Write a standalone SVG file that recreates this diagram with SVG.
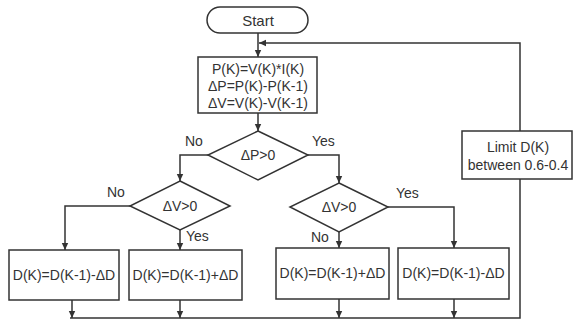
<svg xmlns="http://www.w3.org/2000/svg" width="574" height="320" viewBox="0 0 574 320">
<defs>
<style>
.n{fill:#fff;stroke:#333;stroke-width:1.5}
.c{fill:none;stroke:#333;stroke-width:1.5}
.t{font-family:"Liberation Sans",Arial,sans-serif;font-size:14px;fill:#333;text-anchor:middle}
.l{font-family:"Liberation Sans",Arial,sans-serif;font-size:14px;fill:#333}
</style>
<marker id="a" markerUnits="userSpaceOnUse" markerWidth="8" markerHeight="8" refX="7" refY="4" orient="auto">
<path d="M0,0.8 L7,4 L0,7.2 Z" fill="#333"/>
</marker>
</defs>
<rect width="574" height="320" fill="#fff"/>
<g id="connectors">
<path class="c" d="M258 33 V57" marker-end="url(#a)"/>
<path class="c" d="M258 113 V131" marker-end="url(#a)"/>
<path class="c" d="M208 155 H180 V181" marker-end="url(#a)"/>
<path class="c" d="M308 155 H339 V183" marker-end="url(#a)"/>
<path class="c" d="M130 206 H65 V250" marker-end="url(#a)"/>
<path class="c" d="M180 230 V250" marker-end="url(#a)"/>
<path class="c" d="M339 232 V248" marker-end="url(#a)"/>
<path class="c" d="M388 207 H454 V248" marker-end="url(#a)"/>
<path class="c" d="M72 300 V318" marker-end="url(#a)"/>
<path class="c" d="M180 300 V318" marker-end="url(#a)"/>
<path class="c" d="M339 299 V318" marker-end="url(#a)"/>
<path class="c" d="M454 299 V318" marker-end="url(#a)"/>
<path class="c" d="M70 318 H520 V179"/>
<path class="c" d="M520 131 V43 H259" marker-end="url(#a)"/>
</g>
<g id="start">
<rect class="n" x="207" y="7" width="101" height="26" rx="13"/>
<text class="t" x="258" y="26" style="font-size:15px">Start</text>
</g>
<g id="calc">
<rect class="n" x="198" y="57" width="119" height="56"/>
<text class="t" x="258" y="74">P(K)=V(K)*I(K)</text>
<text class="t" x="258" y="91">ΔP=P(K)-P(K-1)</text>
<text class="t" x="258" y="108">ΔV=V(K)-V(K-1)</text>
</g>
<g id="dP">
<polygon class="n" points="258,131 308,155 258,180 208,155"/>
<text class="t" x="258" y="160">ΔP&gt;0</text>
</g>
<g id="dV1">
<polygon class="n" points="180,181 230,206 180,230 130,206"/>
<text class="t" x="180" y="211">ΔV&gt;0</text>
</g>
<g id="dV2">
<polygon class="n" points="339,183 388,207 339,232 290,207"/>
<text class="t" x="339" y="212">ΔV&gt;0</text>
</g>
<g id="b1">
<rect class="n" x="9" y="250" width="110" height="50"/>
<text class="t" x="64" y="280">D(K)=D(K-1)-ΔD</text>
</g>
<g id="b2">
<rect class="n" x="129" y="250" width="113" height="50"/>
<text class="t" x="185.5" y="280">D(K)=D(K-1)+ΔD</text>
</g>
<g id="b3">
<rect class="n" x="276" y="248" width="113" height="51"/>
<text class="t" x="332.5" y="278">D(K)=D(K-1)+ΔD</text>
</g>
<g id="b4">
<rect class="n" x="398" y="248" width="111" height="51"/>
<text class="t" x="453.5" y="278">D(K)=D(K-1)-ΔD</text>
</g>
<g id="limit">
<rect class="n" x="462" y="131" width="110" height="48"/>
<text class="t" x="518" y="152">Limit D(K)</text>
<text class="t" x="518" y="170">between 0.6-0.4</text>
</g>
<g id="labels">
<text class="l" x="185" y="146">No</text>
<text class="l" x="312" y="146">Yes</text>
<text class="l" x="107" y="197">No</text>
<text class="l" x="186" y="241">Yes</text>
<text class="l" x="396" y="198">Yes</text>
<text class="l" x="311" y="242">No</text>
</g>
</svg>
